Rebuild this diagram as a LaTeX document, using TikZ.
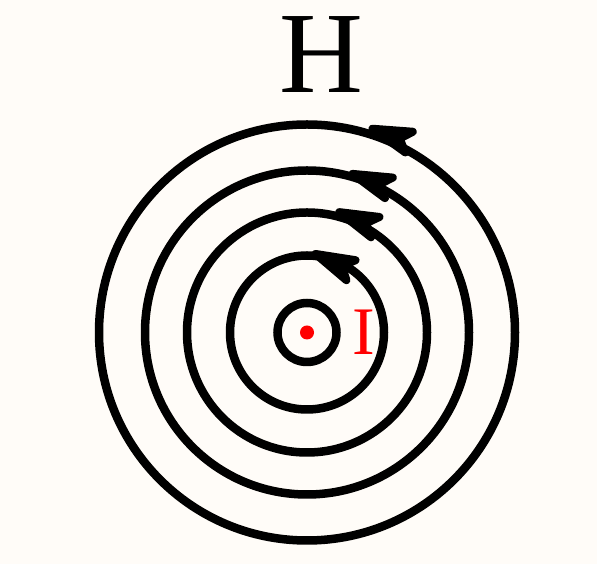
\documentclass[tikz,border=0pt]{standalone}
\usepackage{fontspec}
\setmainfont{Liberation Serif}
\definecolor{paper}{RGB}{255,252,248}

\begin{document}
\begin{tikzpicture}[
  x=1pt, y=1pt,
  fieldline/.style={draw=black, line width=8.5pt},
  fieldhead/.pic={\filldraw[line width=8pt, line join=round, line cap=round] (0,0) -- (-39,11) -- (-29,0) -- (-39,-11) -- cycle;},
  letter/.style={inner sep=0pt, font=\fontsize{#1}{#1}\selectfont},
]
  % Canvas
  \fill[paper] (0,0) rectangle (597,564);
  \useasboundingbox (0,0) rectangle (597,564);

  \coordinate (wire) at (307,231.5);

  % Field lines
  \foreach \r in {29.5,77,120,162,208}
    \draw[fieldline] (wire) circle[radius=\r];

  % Direction of the field
  \foreach \a/\r/\d in {72.2/214/160, 74/165/159, 75/124.6/157.4, 83.8/79/155.4}
    \path (wire) ++(\a:\r) pic[rotate=\d] {fieldhead};

  % Current and labels
  \fill[red] (wire) circle[radius=7];
  \node[letter=68, text=red] (current) at (364,231.5) {I};
  \node[letter=116] (field) at (321.7,509) {H};
\end{tikzpicture}
\end{document}
